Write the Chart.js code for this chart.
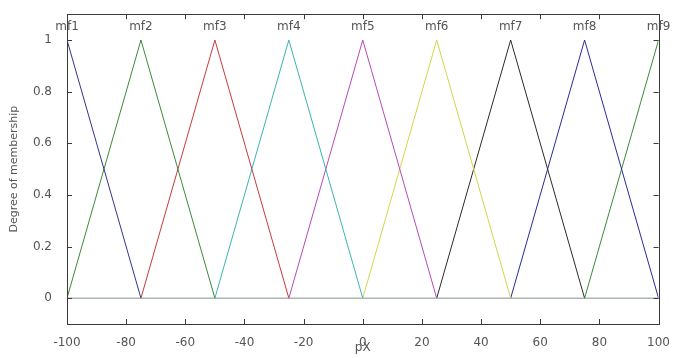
<!DOCTYPE html>
<html><head><meta charset="utf-8">
<script src="https://cdn.jsdelivr.net/npm/chart.js@4"></script>
<style>html,body{margin:0;padding:0;background:#fff}</style>
</head><body>
<canvas id="c" width="674" height="358"></canvas>
<script>
const mfNames = ['mf1','mf2','mf3','mf4','mf5','mf6','mf7','mf8','mf9'];
const mfCenters = [-100,-75,-50,-25,0,25,50,75,100];
const mfX = [[-100,-75],[-100,-75,-50],[-75,-50,-25],[-50,-25,0],[-25,0,25],[0,25,50],[25,50,75],[50,75,100],[75,100]];
const mfY = [[1,0],[0,1,0],[0,1,0],[0,1,0],[0,1,0],[0,1,0],[0,1,0],[0,1,0],[0,1]];
const mfColors = ['#34348c','#3a8a3a','#c83a3a','#3ab4b4','#b848b8','#d4d44a','#2a2a2a','#2a2a96','#3a8a3a'];
const xTicks = [-100,-80,-60,-40,-20,0,20,40,60,80,100];
const yTicks = [0,0.2,0.4,0.6,0.8,1];
const baseX = [-100,100];
const baseY = [0,0];

const datasets = mfNames.map((n,i)=>({
  label:n,
  data: mfX[i].map((x,j)=>({x:x,y:mfY[i][j]})),
  borderColor: mfColors[i], borderWidth:1, pointRadius:0, fill:false, tension:0
}));
datasets.unshift({label:'base', data: baseX.map((x,j)=>({x:x,y:baseY[j]})), borderColor:'#7f948a', borderWidth:1, pointRadius:0});

const frame = {
  id:'frame',
  afterDatasetsDraw(chart){
    const {ctx, chartArea:a, scales:{x,y}} = chart;
    ctx.save();
    ctx.strokeStyle='#3a3a3a'; ctx.lineWidth=1;
    ctx.strokeRect(Math.round(a.left)+0.5, Math.round(a.top)+0.5, Math.round(a.right-a.left), Math.round(a.bottom-a.top));
    const tl=5;
    ctx.beginPath();
    xTicks.forEach(v=>{const px=Math.round(x.getPixelForValue(v))+0.5;
      ctx.moveTo(px,a.bottom); ctx.lineTo(px,a.bottom-tl);
      ctx.moveTo(px,a.top); ctx.lineTo(px,a.top+tl);});
    yTicks.forEach(v=>{const py=Math.round(y.getPixelForValue(v))+0.5;
      ctx.moveTo(a.left,py); ctx.lineTo(a.left+tl,py);
      ctx.moveTo(a.right,py); ctx.lineTo(a.right-tl,py);});
    ctx.stroke();
    ctx.fillStyle='#555'; ctx.font='12px "DejaVu Sans"'; ctx.textAlign='center'; ctx.textBaseline='middle';
    mfNames.forEach((n,i)=>{ctx.fillText(n, x.getPixelForValue(mfCenters[i]), y.getPixelForValue(1.05));});
    ctx.restore();
  }
};

new Chart(document.getElementById('c'), {
  type:'line',
  data:{datasets},
  options:{
    responsive:false, animation:false, devicePixelRatio:1,
    layout:{padding:{top:13,right:13,left:0,bottom:0}},
    plugins:{legend:{display:false}, tooltip:{enabled:false}},
    scales:{
      x:{type:'linear', min:-100, max:100,
        grid:{display:false}, border:{display:false},
        afterBuildTicks:s=>{s.ticks=xTicks.map(v=>({value:v}));},
        afterFit:s=>{s.height=34;},
        ticks:{color:'#555', font:{family:'DejaVu Sans', size:12}, padding:4, maxRotation:0, autoSkip:false, callback:v=>String(v)},
        title:{display:true, text:'pX', color:'#555', font:{family:'DejaVu Sans', size:12}, padding:{top:0,bottom:3}}
      },
      y:{type:'linear', min:-0.1, max:1.1,
        grid:{display:false}, border:{display:false},
        afterBuildTicks:s=>{s.ticks=yTicks.map(v=>({value:v}));},
        afterFit:s=>{s.width=67;},
        ticks:{color:'#555', font:{family:'DejaVu Sans', size:12}, padding:7, autoSkip:false, callback:v=>String(v)},
        title:{display:true, text:'Degree of membership', color:'#555', font:{family:'DejaVu Sans', size:11}, padding:{top:8,bottom:0}}
      }
    }
  },
  plugins:[frame]
});
</script>
</body></html>
